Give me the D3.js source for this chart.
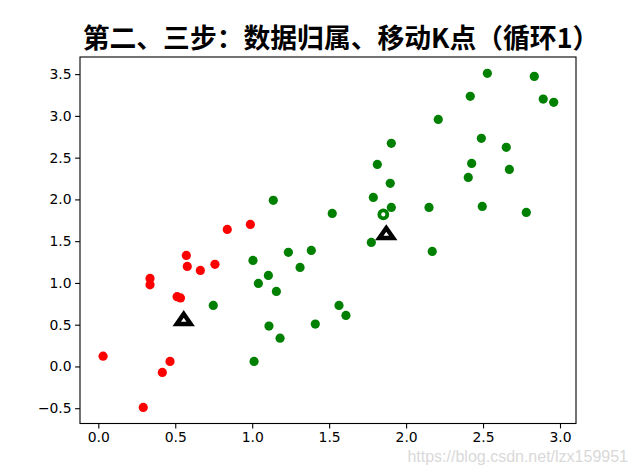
<!DOCTYPE html>
<html>
<head>
<meta charset="utf-8">
<script src="https://cdn.jsdelivr.net/npm/d3@7/dist/d3.min.js"></script>
<style>
  html, body { margin: 0; padding: 0; background: #fff; }
  svg { display: block; }
</style>
</head>
<body>
<svg id="chart" width="640" height="476"></svg>
<script>
// ---- data ----
const titleText = "第二、三步：数据归属、移动K点（循环1）";
const watermark = "https://blog.csdn.net/lzx159951";
const xTicks = [0.0, 0.5, 1.0, 1.5, 2.0, 2.5, 3.0];
const yTicks = [-0.5, 0.0, 0.5, 1.0, 1.5, 2.0, 2.5, 3.0, 3.5];

// cluster 1 (red)
const redX = [0.838, 0.988, 0.572, 0.578, 0.663, 0.758, 0.336, 0.336, 0.512, 0.534, 0.031, 0.466, 0.416, 0.292];
const redY = [1.641, 1.701, 1.329, 1.198, 1.150, 1.223, 1.054, 0.977, 0.836, 0.820, 0.123, 0.060, -0.072, -0.491];

// cluster 2 (green)
const greenX = [1.137, 1.520, 1.005, 1.235, 1.384, 1.311, 1.105, 1.040, 1.157, 0.747, 1.564, 1.609, 1.109, 1.410, 1.181, 1.012,
                2.528, 2.833, 2.417, 2.891, 2.959, 2.209, 1.904, 2.489, 2.651, 1.813, 2.426, 2.671, 1.897, 2.404, 1.787, 1.904,
                2.149, 2.495, 2.781, 1.774, 2.170];
const greenY = [1.989, 1.832, 1.269, 1.366, 1.389, 1.186, 1.090, 0.994, 0.898, 0.731, 0.731, 0.611, 0.483, 0.507, 0.339, 0.060,
                3.509, 3.473, 3.234, 3.201, 3.162, 2.958, 2.671, 2.731, 2.623, 2.419, 2.431, 2.359, 2.192, 2.263, 2.024, 1.904,
                1.904, 1.916, 1.844, 1.485, 1.377];

// hollow green point
const ringX = [1.852];
const ringY = [1.820];

// K points (triangles)
const kX = [0.555, 1.871];
const kY = [0.575, 1.604];

// ---- layout ----
const m = { left: 80, right: 576, top: 57, bottom: 423.5 };
const svg = d3.select("#chart");

const x = d3.scaleLinear().domain([-0.119, 3.104]).range([m.left, m.right]);
const y = d3.scaleLinear().domain([-0.683, 3.705]).range([m.bottom, m.top]);

// points
const g = svg.append("g");
const red = d3.zip(redX, redY);
const green = d3.zip(greenX, greenY);

g.selectAll("circle.red").data(red).enter().append("circle")
  .attr("cx", d => x(d[0])).attr("cy", d => y(d[1])).attr("r", 4.6)
  .attr("fill", "#ff0000");

g.selectAll("circle.green").data(green).enter().append("circle")
  .attr("cx", d => x(d[0])).attr("cy", d => y(d[1])).attr("r", 4.6)
  .attr("fill", "#008000");

g.selectAll("circle.ring").data(d3.zip(ringX, ringY)).enter().append("circle")
  .attr("cx", d => x(d[0])).attr("cy", d => y(d[1])).attr("r", 4)
  .attr("fill", "#fff").attr("stroke", "#008000").attr("stroke-width", 3.8);

const tri = "M0,-5 L7,5 L-7,5 Z";
g.selectAll("path.k").data(d3.zip(kX, kY)).enter().append("path")
  .attr("d", tri)
  .attr("transform", d => `translate(${x(d[0])},${y(d[1]) + 0.5})`)
  .attr("fill", "#fff").attr("stroke", "#000").attr("stroke-width", 4.4)
  .attr("stroke-linejoin", "miter").attr("stroke-miterlimit", 3);

// axes
const fontTick = "'DejaVu Sans', sans-serif";
const xAxis = d3.axisBottom(x).tickValues(xTicks).tickFormat(d3.format(".1f")).tickSizeOuter(0).tickSize(4.9).tickPadding(3.5);
const yAxis = d3.axisLeft(y).tickValues(yTicks).tickFormat(d => d < 0 ? "\u2212" + Math.abs(d).toFixed(1) : d.toFixed(1)).tickSizeOuter(0).tickSize(4.9).tickPadding(3.5);

const gx = svg.append("g").attr("transform", `translate(0,${m.bottom})`).call(xAxis);
const gy = svg.append("g").attr("transform", `translate(${m.left},0)`).call(yAxis);
[gx, gy].forEach(a => {
  a.select(".domain").remove();
  a.selectAll(".tick line").attr("stroke", "#000").attr("stroke-width", 1.1);
  a.selectAll(".tick text").attr("fill", "#000").style("font-family", fontTick).style("font-size", "13.9px");
});

// frame
svg.append("rect")
  .attr("x", m.left).attr("y", m.top)
  .attr("width", m.right - m.left).attr("height", m.bottom - m.top)
  .attr("fill", "none").attr("stroke", "#000").attr("stroke-width", 1.1);

// title
svg.append("text")
  .attr("x", 341).attr("y", 48)
  .attr("text-anchor", "middle")
  .style("font-family", "'Noto Sans CJK SC', sans-serif")
  .style("font-weight", "bold")
  .style("font-size", "26.8px")
  .attr("fill", "#000")
  .text(titleText);

// watermark
svg.append("text")
  .attr("x", 628).attr("y", 462)
  .attr("text-anchor", "end")
  .style("font-family", "'Liberation Sans Narrow', 'Liberation Sans', sans-serif")
  .style("font-size", "16px")
  .attr("fill", "#d9d9d9")
  .text(watermark);
</script>
</body>
</html>
